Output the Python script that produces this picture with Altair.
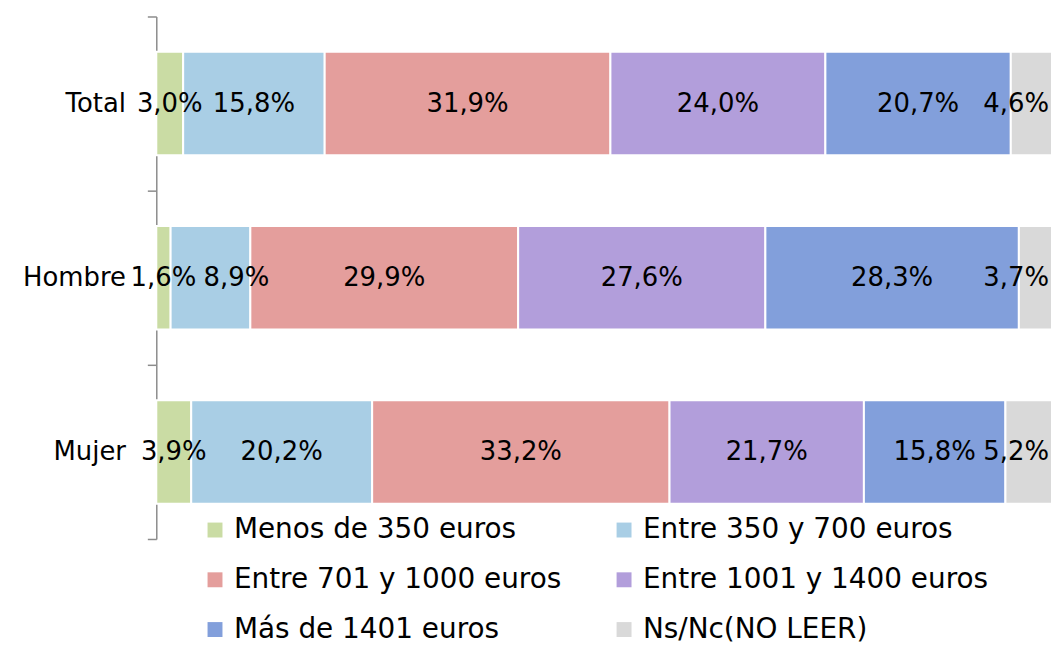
import altair as alt
import pandas as pd

categories = ["Total", "Hombre", "Mujer"]
series = ["Menos de 350 euros", "Entre 350 y 700 euros", "Entre 701 y 1000 euros",
          "Entre 1001 y 1400 euros", "Más de 1401 euros", "Ns/Nc(NO LEER)"]
total_vals = [3.0, 15.8, 31.9, 24.0, 20.7, 4.6]
hombre_vals = [1.6, 8.9, 29.9, 27.6, 28.3, 3.7]
mujer_vals = [3.9, 20.2, 33.2, 21.7, 15.8, 5.2]
colors = ["#CADCA4", "#A9CEE5", "#E49E9C", "#B29EDB", "#829FDB", "#D9D9D9"]

FONT = "DejaVu Sans"
FS = 26
PLOT_W = 900
PX_PER_UNIT = PLOT_W / 100.0


def text_units(s):
    # approximate DejaVu Sans advance widths (em) -> data units
    em = sum(0.95 if c == "%" else 0.318 if c == "," else 0.636 for c in s)
    return em * FS / PX_PER_UNIT


rows = []
for cat, vals in zip(categories, [total_vals, hombre_vals, mujer_vals]):
    start = 0.0
    prev_right = None
    for i, (s, v) in enumerate(zip(series, vals)):
        end = start + v
        label = f"{v:.1f}%".replace(".", ",")
        w = text_units(label)
        pos = (start + end) / 2
        if prev_right is not None and pos - w / 2 < prev_right + 0.8:
            pos = prev_right + 0.8 + w / 2
        prev_right = pos + w / 2
        rows.append(dict(cat=cat, serie=s, order=i, value=v, start=start, end=end,
                         pos=pos, label=label, last=(i == len(series) - 1)))
        start = end
df = pd.DataFrame(rows)

yenc = alt.Y("cat:N", sort=categories,
             scale=alt.Scale(paddingInner=0, paddingOuter=0),
             axis=alt.Axis(title=None, tickBand="extent", ticks=True, tickSize=9,
                           tickColor="#8c8c8c", tickWidth=1.5,
                           domainColor="#8c8c8c", domainWidth=1.5,
                           labelFont=FONT, labelFontSize=FS, labelColor="black",
                           labelPadding=22))

base = alt.Chart(df)

bars = base.mark_bar(size=104, stroke="white", strokeWidth=2).encode(
    y=yenc,
    x=alt.X("start:Q", scale=alt.Scale(domain=[0, 100]), axis=None),
    x2="end:Q",
    color=alt.Color("serie:N", sort=series,
                    scale=alt.Scale(domain=series, range=colors),
                    legend=alt.Legend(title=None, orient="none", legendX=45, legendY=502,
                                      direction="horizontal",
                                      columns=2, columnPadding=49, rowPadding=22,
                                      symbolType="square", symbolSize=225,
                                      symbolStrokeWidth=0, labelOffset=5,
                                      labelFont=FONT, labelFontSize=28,
                                      labelColor="black", labelLimit=500)),
    order=alt.Order("order:Q"),
)

labels_mid = base.transform_filter("!datum.last").mark_text(
    font=FONT, fontSize=FS, color="black", align="center", baseline="middle"
).encode(
    y=alt.Y("cat:N", sort=categories),
    x=alt.X("pos:Q"),
    text="label:N",
)

labels_last = base.transform_filter("datum.last").mark_text(
    font=FONT, fontSize=FS, color="black", align="right", baseline="middle", dx=-3
).encode(
    y=alt.Y("cat:N", sort=categories),
    x=alt.X("end:Q"),
    text="label:N",
)

chart = alt.layer(bars, labels_mid, labels_last).properties(
    width=PLOT_W, height=525,
    autosize=alt.AutoSizeParams(type="none"),
    padding={"left": 149, "top": 7, "right": 0, "bottom": 107},
).configure_view(stroke=None)

chart.save("out.html", embed_options={"renderer": "svg", "actions": False})
